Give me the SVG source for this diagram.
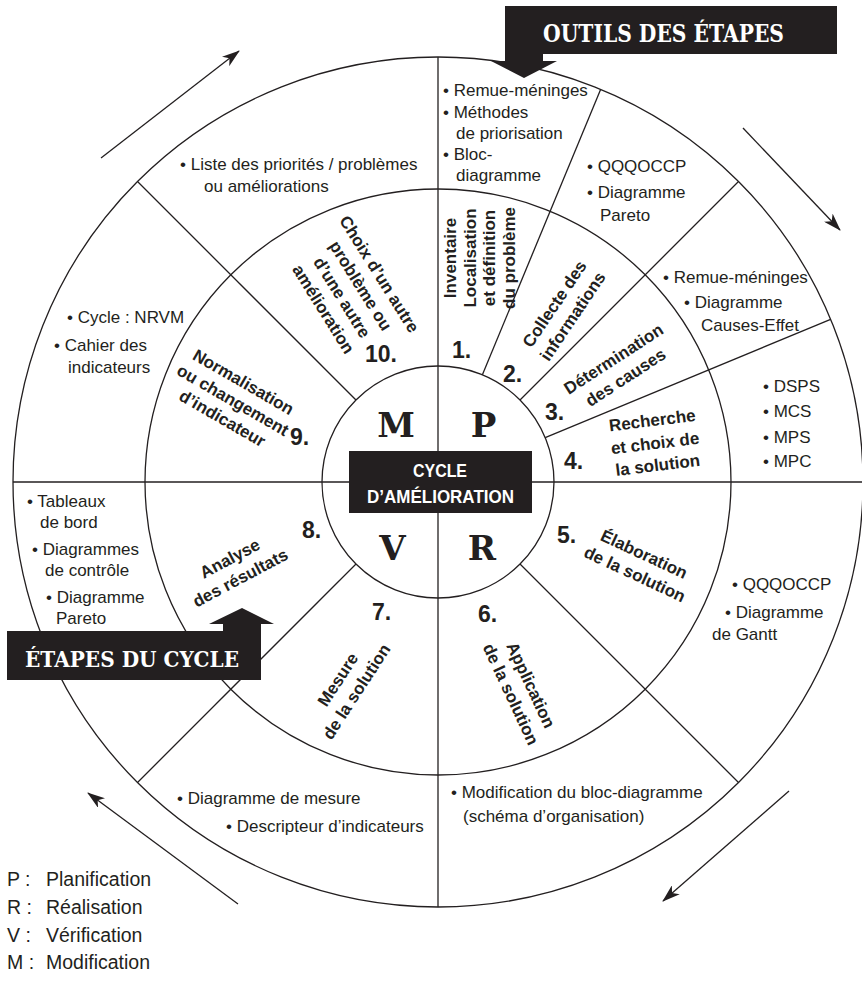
<svg xmlns="http://www.w3.org/2000/svg" width="862" height="994" viewBox="0 0 862 994">
<defs>
<style>
.ln{fill:none;stroke:#231f20;stroke-width:1.3}
.t{font-family:"Liberation Sans",Arial,sans-serif;font-size:17px;fill:#231f20}
.lg{font-family:"Liberation Sans",Arial,sans-serif;font-size:19.5px;fill:#231f20}
.b{font-family:"Liberation Sans",Arial,sans-serif;font-size:17px;font-weight:bold;fill:#231f20;text-anchor:middle}
.n{font-family:"Liberation Sans",Arial,sans-serif;font-size:23px;font-weight:bold;fill:#231f20}
.L{font-family:"DejaVu Serif","Liberation Serif",serif;font-size:34px;font-weight:bold;fill:#231f20;text-anchor:middle}
.bx{fill:#231f20}
.w{fill:#ffffff;font-weight:bold}
.arr{fill:none;stroke:#231f20;stroke-width:1.3}
</style>
<marker id="ah" viewBox="0 0 18 12" refX="17" refY="6" markerWidth="18" markerHeight="12" orient="auto" markerUnits="userSpaceOnUse">
<path d="M0,0 L18,6 L0,12 L5,6 Z" fill="#231f20"/>
</marker>
</defs>
<rect width="862" height="994" fill="#ffffff"/>

<g id="wheel">
<circle class="ln" cx="438" cy="482" r="425"/>
<circle class="ln" cx="438" cy="482" r="293"/>
<circle class="ln" cx="438" cy="482" r="116"/>
<line class="ln" x1="438" y1="57" x2="438" y2="907"/>
<line class="ln" x1="13" y1="482" x2="863" y2="482"/>
<line class="ln" x1="482.4" y1="374.8" x2="600.6" y2="89.4"/>
<line class="ln" x1="520" y1="400" x2="738.5" y2="181.5"/>
<line class="ln" x1="545.2" y1="437.6" x2="830.6" y2="319.4"/>
<line class="ln" x1="520" y1="564" x2="738.5" y2="782.5"/>
<line class="ln" x1="356" y1="564" x2="137.5" y2="782.5"/>
<line class="ln" x1="356" y1="400" x2="137.5" y2="181.5"/>
</g>

<g id="connectors">
<line class="arr" x1="101" y1="158" x2="239" y2="51" marker-end="url(#ah)"/>
<line class="arr" x1="743" y1="128" x2="840" y2="230" marker-end="url(#ah)"/>
<line class="arr" x1="789" y1="791" x2="663" y2="901" marker-end="url(#ah)"/>
<line class="arr" x1="238" y1="904" x2="88" y2="793" marker-end="url(#ah)"/>
</g>

<g id="outils-title">
<path class="bx" d="M505,6 H837 V54 H543 V61 H557 L524,78 L491,61 H505 Z"/>
<text class="w" x="543" y="42" font-family="'DejaVu Serif','Liberation Serif',serif" font-size="25" textLength="241" lengthAdjust="spacingAndGlyphs">OUTILS DES ÉTAPES</text>
</g>

<g id="cycle-center">
<rect class="bx" x="349" y="451" width="183" height="62"/>
<text class="w" x="440" y="477" font-family="'Liberation Sans',Arial,sans-serif" font-size="19" text-anchor="middle" textLength="54" lengthAdjust="spacingAndGlyphs">CYCLE</text>
<text class="w" x="440.5" y="503" font-family="'Liberation Sans',Arial,sans-serif" font-size="19" text-anchor="middle" textLength="147" lengthAdjust="spacingAndGlyphs">D’AMÉLIORATION</text>
</g>

<g id="pdca">
<text class="L" x="396" y="437">M</text>
<text class="L" x="483.5" y="437">P</text>
<text class="L" x="392.5" y="560">V</text>
<text class="L" x="482" y="560">R</text>
</g>

<g id="step1">
<text class="n" x="452" y="358">1.</text>
<g transform="translate(456,258) rotate(-90)">
<text class="b" x="0" y="0">Inventaire</text>
<text class="b" x="0" y="19.5">Localisation</text>
<text class="b" x="0" y="39">et définition</text>
<text class="b" x="0" y="58.5">du problème</text>
</g>
</g>
<g id="step2">
<text class="n" x="503" y="382">2.</text>
<g transform="translate(563.5,310) rotate(-56)">
<text class="b" x="0" y="-5">Collecte des</text>
<text class="b" x="0" y="17">informations</text>
</g>
</g>
<g id="step3">
<text class="n" x="545" y="420">3.</text>
<g transform="translate(619.5,368) rotate(-33)">
<text class="b" x="0" y="-5">Détermination</text>
<text class="b" x="0" y="17">des causes</text>
</g>
</g>
<g id="step4">
<text class="n" x="564" y="469">4.</text>
<g transform="translate(655,443) rotate(-7)">
<text class="b" x="0" y="-17">Recherche</text>
<text class="b" x="0" y="6">et choix de</text>
<text class="b" x="0" y="28">la solution</text>
</g>
</g>
<g id="step5">
<text class="n" x="557" y="543">5.</text>
<g transform="translate(639.5,564) rotate(25)">
<text class="b" x="0" y="-5">Élaboration</text>
<text class="b" x="0" y="17">de la solution</text>
</g>
</g>
<g id="step6">
<text class="n" x="478" y="622">6.</text>
<g transform="translate(521,689.5) rotate(65)">
<text class="b" x="0" y="-5">Application</text>
<text class="b" x="0" y="17">de la solution</text>
</g>
</g>
<g id="step7">
<text class="n" x="372" y="620">7.</text>
<g transform="translate(347,685.5) rotate(-57)">
<text class="b" x="0" y="-5">Mesure</text>
<text class="b" x="0" y="17">de la solution</text>
</g>
</g>
<g id="step8">
<text class="n" x="302" y="538">8.</text>
<g transform="translate(235,568) rotate(-28)">
<text class="b" x="0" y="-5">Analyse</text>
<text class="b" x="0" y="17">des résultats</text>
</g>
</g>
<g id="step9">
<text class="n" x="290" y="445">9.</text>
<g transform="translate(233,400) rotate(30)">
<text class="b" x="0" y="-15">Normalisation</text>
<text class="b" x="0" y="6">ou changement</text>
<text class="b" x="0" y="27">d’indicateur</text>
</g>
</g>
<g id="step10">
<text class="n" x="365" y="362">10.</text>
<g transform="translate(351.5,291.5) rotate(58)">
<text class="b" x="0" y="-27">Choix d’un autre</text>
<text class="b" x="0" y="-5">problème ou</text>
<text class="b" x="0" y="17">d’une autre</text>
<text class="b" x="0" y="39">amélioration</text>
</g>
</g>

<g id="tools1">
<text class="t" x="443" y="96">• Remue-méninges</text>
<text class="t" x="443" y="118">• Méthodes</text>
<text class="t" x="456" y="139">de priorisation</text>
<text class="t" x="443" y="160">• Bloc-</text>
<text class="t" x="456" y="181">diagramme</text>
</g>
<g id="tools2">
<text class="t" x="587" y="172">• QQQOCCP</text>
<text class="t" x="587" y="198">• Diagramme</text>
<text class="t" x="600" y="221">Pareto</text>
</g>
<g id="tools3">
<text class="t" x="663" y="283">• Remue-méninges</text>
<text class="t" x="684" y="308">• Diagramme</text>
<text class="t" x="701" y="331">Causes-Effet</text>
</g>
<g id="tools4">
<text class="t" x="763" y="392">• DSPS</text>
<text class="t" x="763" y="417">• MCS</text>
<text class="t" x="763" y="443">• MPS</text>
<text class="t" x="763" y="467">• MPC</text>
</g>
<g id="tools5">
<text class="t" x="732" y="590">• QQQOCCP</text>
<text class="t" x="725" y="618">• Diagramme</text>
<text class="t" x="712" y="640">de Gantt</text>
</g>
<g id="tools6">
<text class="t" x="451" y="798">• Modification du bloc-diagramme</text>
<text class="t" x="463" y="822">(schéma d’organisation)</text>
</g>
<g id="tools7">
<text class="t" x="177" y="804">• Diagramme de mesure</text>
<text class="t" x="226" y="832">• Descripteur d’indicateurs</text>
</g>
<g id="tools8">
<text class="t" x="27" y="507">• Tableaux</text>
<text class="t" x="40" y="528">de bord</text>
<text class="t" x="32" y="555">• Diagrammes</text>
<text class="t" x="45" y="576">de contrôle</text>
<text class="t" x="46" y="603">• Diagramme</text>
<text class="t" x="56" y="624">Pareto</text>
</g>
<g id="tools9">
<text class="t" x="67" y="323">• Cycle : NRVM</text>
<text class="t" x="54" y="351">• Cahier des</text>
<text class="t" x="68" y="373">indicateurs</text>
</g>
<g id="tools10">
<text class="t" x="180" y="170">• Liste des priorités / problèmes</text>
<text class="t" x="204" y="192">ou améliorations</text>
</g>

<g id="etapes-title">
<path class="bx" d="M7,631 H223 V624 H209 L242,608 L274,624 H261 V680 H7 Z"/>
<text class="w" x="25" y="667" font-family="'DejaVu Serif','Liberation Serif',serif" font-size="23" textLength="214" lengthAdjust="spacingAndGlyphs">ÉTAPES DU CYCLE</text>
</g>

<g id="legend">
<text class="lg" x="7" y="886">P :</text><text class="lg" x="46" y="886">Planification</text>
<text class="lg" x="7" y="914">R :</text><text class="lg" x="46" y="914">Réalisation</text>
<text class="lg" x="7" y="942">V :</text><text class="lg" x="46" y="942">Vérification</text>
<text class="lg" x="7" y="969">M :</text><text class="lg" x="46" y="969">Modification</text>
</g>
</svg>
